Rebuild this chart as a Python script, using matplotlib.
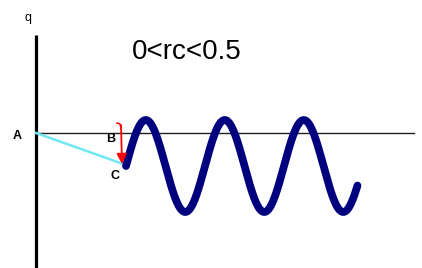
import numpy as np
import matplotlib
matplotlib.use("Agg")
import matplotlib.pyplot as plt

# Diagram geometry (in pixel-like data units, y downward)
axis_x = 36
axis_top, axis_bottom = 35, 268
baseline_y = 133
baseline_end = 414
point_A = (36, 133)
point_C = (126, 165)
wave_center = 166
wave_amplitude = 46
wave_period = 79
wave_cycles = 2.93
title_text = "0<rc<0.5"
labels = {"q": (28, 18), "A": (17, 136), "B": (111, 139), "C": (115, 176)}

fig = plt.figure(figsize=(4.22, 2.68), dpi=100)
ax = fig.add_axes([0, 0, 1, 1])
ax.set_xlim(0, 422)
ax.set_ylim(268, 0)
ax.axis("off")

# vertical axis
ax.plot([axis_x, axis_x], [axis_top, axis_bottom], color="black", lw=2.3, solid_capstyle="butt")
# horizontal baseline
ax.plot([axis_x, baseline_end], [baseline_y, baseline_y], color="#202020", lw=1.0)
# cyan line A -> C
ax.plot([point_A[0], point_C[0]], [point_A[1], point_C[1]], color="#70e8f0", lw=1.8)

# sine wave
t = np.linspace(0, wave_cycles, 400)
xw = point_C[0] + t * wave_period
yw = wave_center - wave_amplitude * np.sin(2 * np.pi * t)
ax.plot(xw, yw, color="#00007f", lw=5.6, solid_capstyle="round")

# red arrow B -> C
ax.annotate("", xy=(122, 164), xytext=(121, 125),
            arrowprops=dict(arrowstyle="-|>,head_length=0.6,head_width=0.3",
                            color="red", lw=1.3, shrinkA=0, shrinkB=0))
ax.plot([117, 120, 121], [123, 124, 128], color="red", lw=1.1)

ax.text(132, 52, title_text, fontsize=20, family="Liberation Sans",
        va="center", ha="left", color="black")

for s, (x, y) in labels.items():
    ax.text(x, y, s, fontsize=9 if s == "q" else 9,
            family="Liberation Sans",
            fontweight="normal" if s == "q" else "bold",
            va="center", ha="center", color="black")

fig.savefig("out.png", dpi=100)
